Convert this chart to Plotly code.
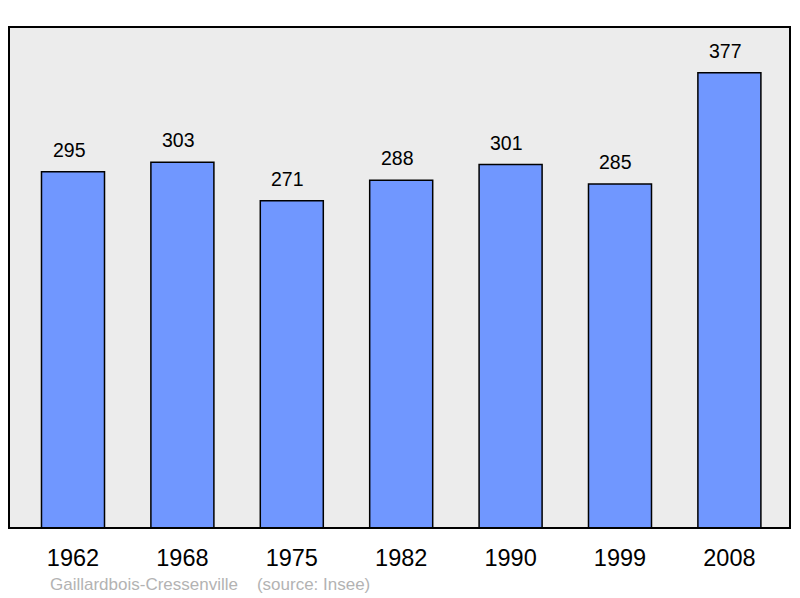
import plotly.graph_objects as go

years = ["1962", "1968", "1975", "1982", "1990", "1999", "2008"]
population = [295, 303, 271, 288, 301, 285, 377]
commune = "Gaillardbois-Cressenville"
source = "(source: Insee)"

fig = go.Figure()

fig.add_trace(go.Bar(
    x=list(range(len(years))),
    y=population,
    width=0.576,
    marker=dict(color="#7097ff", line=dict(color="#000000", width=1.5)),
    hoverinfo="skip",
))

# value labels above each bar (slightly left of centre, as in the original)
for i, v in enumerate(population):
    fig.add_annotation(x=i, y=v, text=str(v), showarrow=False,
                       yanchor="bottom", yshift=9, xshift=-4,
                       font=dict(size=19.5, color="#000000"))

# frame around the plot area
fig.add_shape(type="rect", xref="paper", yref="paper", x0=0, y0=0, x1=1, y1=1,
              line=dict(color="#000000", width=2), layer="above")

fig.add_annotation(xref="paper", yref="paper", x=(48 - 9) / 781, y=-56 / 501,
                   xanchor="left", yanchor="middle", showarrow=False,
                   text=commune + "&nbsp;&nbsp;&nbsp;&nbsp;" + source,
                   font=dict(size=17, color="#b3b3b3"))

# the page body adds an 8px offset, so the figure is drawn 8px smaller
fig.update_layout(
    width=792, height=590,
    margin=dict(l=1, r=10, t=19, b=70),
    paper_bgcolor="#ffffff",
    plot_bgcolor="#ececec",
    showlegend=False,
    font=dict(family="Liberation Sans, Arial, sans-serif"),
    xaxis=dict(range=[-0.585, 6.554], tickvals=list(range(len(years))), ticktext=years,
               ticks="outside", ticklen=9, tickcolor="rgba(0,0,0,0)",
               showgrid=False, zeroline=False, fixedrange=True,
               tickfont=dict(size=23.5, color="#000000")),
    yaxis=dict(range=[0, 415], showgrid=False, zeroline=False, showticklabels=False,
               fixedrange=True),
)

fig.write_html("out.html")
